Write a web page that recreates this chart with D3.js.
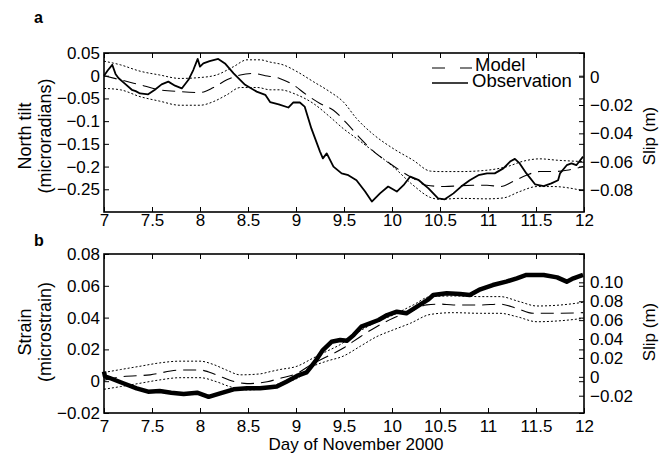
<!DOCTYPE html>
<html>
<head>
<meta charset="utf-8">
<script src="https://cdnjs.cloudflare.com/ajax/libs/d3/7.8.5/d3.min.js"></script>
<style>
body { margin: 0; background: #fff; }
svg text { font-family: "Liberation Sans", Arial, Helvetica, sans-serif; fill: #000; }
</style>
</head>
<body>
<svg id="chart" width="660" height="458"></svg>
<script>
// Panel a: north tilt (microradians), pairs of [day, value]
var tiltObs = [[7.0, 0.0], [7.04, 0.012], [7.086, 0.024], [7.12, 0.004], [7.15, -0.005], [7.22, -0.018],
    [7.29, -0.031], [7.33, -0.034], [7.375, -0.039], [7.46, -0.041], [7.53, -0.031], [7.6, -0.019],
    [7.67, -0.013], [7.74, -0.022], [7.81, -0.028], [7.88, -0.009], [7.93, 0.0125], [7.976, 0.037],
    [8.0, 0.02], [8.035, 0.027], [8.1, 0.032], [8.19, 0.037], [8.26, 0.027], [8.35, 0.005],
    [8.47, -0.02], [8.59, -0.035], [8.68, -0.042], [8.73, -0.058], [8.82, -0.063], [8.92, -0.070],
    [8.97, -0.059], [9.04, -0.059], [9.09, -0.068], [9.16, -0.116], [9.25, -0.167], [9.28, -0.182],
    [9.32, -0.171], [9.39, -0.2], [9.475, -0.215], [9.545, -0.219], [9.63, -0.23], [9.72, -0.255],
    [9.79, -0.277], [9.875, -0.259], [9.96, -0.244], [10.05, -0.255], [10.12, -0.241], [10.19, -0.222],
    [10.28, -0.23], [10.38, -0.248], [10.48, -0.27], [10.55, -0.272], [10.64, -0.259], [10.72, -0.244],
    [10.81, -0.23], [10.9, -0.219], [10.99, -0.215], [11.07, -0.215], [11.16, -0.204], [11.23, -0.189],
    [11.28, -0.183], [11.33, -0.193], [11.4, -0.215], [11.49, -0.239], [11.58, -0.243], [11.66, -0.237],
    [11.73, -0.23], [11.75, -0.215], [11.82, -0.197], [11.87, -0.193], [11.92, -0.197], [11.99, -0.178]];
var tiltModel = [[7.0, 0.0], [7.17, -0.009], [7.375, -0.02], [7.58, -0.031], [7.79, -0.035], [8.0, -0.037],
    [8.14, -0.026], [8.28, -0.009], [8.42, 0.0016], [8.55, 0.005], [8.68, 0.0], [8.83, -0.006],
    [8.97, -0.02], [9.11, -0.042], [9.25, -0.061], [9.39, -0.076], [9.53, -0.105], [9.67, -0.138],
    [9.81, -0.167], [9.95, -0.189], [10.08, -0.208], [10.22, -0.226], [10.36, -0.241], [10.55, -0.244],
    [10.71, -0.242], [10.99, -0.241], [11.125, -0.244], [11.26, -0.233], [11.4, -0.219], [11.54, -0.211],
    [11.68, -0.211], [11.82, -0.208], [11.99, -0.2]];
var tiltUpper = [[7.0, 0.032], [7.17, 0.024], [7.375, 0.01], [7.58, 0.0016], [7.79, -0.006], [8.0, -0.004],
    [8.17, 0.0016], [8.35, 0.02], [8.49, 0.035], [8.625, 0.035], [8.73, 0.03], [8.87, 0.0236],
    [9.01, 0.009], [9.18, -0.013], [9.35, -0.035], [9.49, -0.057], [9.63, -0.094], [9.81, -0.13],
    [10.01, -0.16], [10.22, -0.186], [10.4, -0.21], [10.5, -0.211], [10.71, -0.211], [10.99, -0.208],
    [11.2, -0.2], [11.37, -0.188], [11.54, -0.183], [11.72, -0.186], [11.99, -0.189]];
var tiltLower = [[7.0, -0.028], [7.17, -0.031], [7.375, -0.046], [7.58, -0.056], [7.79, -0.065], [8.0, -0.065],
    [8.14, -0.057], [8.28, -0.042], [8.42, -0.026], [8.6, -0.026], [8.73, -0.031], [8.83, -0.031],
    [9.01, -0.042], [9.18, -0.061], [9.35, -0.09], [9.49, -0.116], [9.63, -0.138], [9.81, -0.167],
    [10.01, -0.2], [10.22, -0.241], [10.4, -0.268], [10.5, -0.272], [10.71, -0.27], [10.99, -0.271],
    [11.16, -0.269], [11.33, -0.255], [11.51, -0.244], [11.68, -0.244], [11.99, -0.253]];

// Panel b: strain (microstrain), pairs of [day, value]
var strainObs = [[7.0, 0.006], [7.01, 0.003], [7.06, 0.002], [7.2, -0.0013], [7.34, -0.0045], [7.46, -0.0066],
    [7.58, -0.0062], [7.7, -0.0072], [7.83, -0.0081], [7.97, -0.0072], [8.09, -0.0098], [8.21, -0.0076],
    [8.35, -0.0051], [8.49, -0.0045], [8.625, -0.0045], [8.73, -0.0038], [8.8, -0.0034], [8.9, -0.0003],
    [9.01, 0.0033], [9.11, 0.0055], [9.2, 0.0124], [9.28, 0.0196], [9.37, 0.0248], [9.46, 0.0259],
    [9.53, 0.0254], [9.6, 0.029], [9.68, 0.0343], [9.77, 0.0364], [9.86, 0.0385], [9.95, 0.0416],
    [10.05, 0.0437], [10.15, 0.0427], [10.26, 0.0469], [10.38, 0.0515], [10.43, 0.0542], [10.57, 0.0553],
    [10.71, 0.0548], [10.81, 0.0542], [10.92, 0.0578], [11.05, 0.0605], [11.19, 0.0626], [11.3, 0.0647],
    [11.4, 0.0668], [11.58, 0.0668], [11.72, 0.0653], [11.82, 0.0626], [11.89, 0.0647], [11.99, 0.0668]];
var strainModel = [[7.0, 0.0006], [7.17, 0.0027], [7.48, 0.004], [7.79, 0.007], [8.0, 0.007], [8.17, 0.004],
    [8.31, 0.0006], [8.49, -0.0015], [8.7, -0.0003], [8.83, 0.0017], [9.01, 0.0049], [9.18, 0.0112],
    [9.32, 0.0154], [9.49, 0.0207], [9.67, 0.028], [9.84, 0.0343], [10.01, 0.0396], [10.19, 0.0437],
    [10.36, 0.048], [10.5, 0.0485], [10.64, 0.0479], [10.92, 0.0479], [11.125, 0.0485], [11.3, 0.0458],
    [11.47, 0.0427], [11.68, 0.0427], [11.99, 0.0431]];
var strainUpper = [[7.0, 0.0055], [7.17, 0.0073], [7.375, 0.0094], [7.58, 0.0115], [7.79, 0.0126], [8.0, 0.0126],
    [8.14, 0.0105], [8.28, 0.0069], [8.42, 0.004], [8.625, 0.0046], [8.73, 0.006], [8.83, 0.0073],
    [9.01, 0.0094], [9.18, 0.0146], [9.32, 0.0188], [9.46, 0.023], [9.63, 0.0302], [9.81, 0.0364],
    [10.01, 0.0416], [10.22, 0.0479], [10.4, 0.0532], [10.64, 0.0536], [10.92, 0.0532], [11.125, 0.0532],
    [11.33, 0.05], [11.51, 0.0473], [11.75, 0.0479], [11.99, 0.0496]];
var strainLower = [[7.0, -0.0051], [7.17, -0.0034], [7.375, -0.0013], [7.58, 0.0008], [7.79, 0.0022], [8.0, 0.0022],
    [8.17, -0.0003], [8.31, -0.0034], [8.49, -0.0055], [8.73, -0.0038], [8.83, -0.0013], [9.01, 0.0017],
    [9.18, 0.0094], [9.32, 0.0126], [9.49, 0.0157], [9.67, 0.022], [9.84, 0.028], [10.01, 0.0322],
    [10.19, 0.0364], [10.4, 0.042], [10.64, 0.0431], [10.92, 0.0427], [11.125, 0.0427], [11.3, 0.0406],
    [11.51, 0.0374], [11.75, 0.038], [11.99, 0.0395]];

// tick values
var dayTicks = [7, 7.5, 8, 8.5, 9, 9.5, 10, 10.5, 11, 11.5, 12];
var tiltTicks = [0.05, 0, -0.05, -0.1, -0.15, -0.2, -0.25];
var slipTicksA = [0, -0.02, -0.04, -0.06, -0.08];
var strainTicks = [0.08, 0.06, 0.04, 0.02, 0, -0.02];
var slipTicksB = [0.10, 0.08, 0.06, 0.04, 0.02, 0, -0.02];

var svg = d3.select('#chart');
var left = 104, right = 584;
var fmt = d3.format('~g');

var x = d3.scaleLinear().domain([7, 12]).range([left, right]);

// Draws one panel with left and right axes
function drawPanel(opt) {
    var g = svg.append('g');
    var y = d3.scaleLinear().domain(opt.yDomain).range([opt.bottom, opt.top]);
    var y2 = d3.scaleLinear().domain(opt.y2Domain).range([opt.bottom, opt.top]);

    var line = d3.line().x(function(d){ return x(d[0]); }).y(function(d){ return y(d[1]); });
    var smooth = d3.line().curve(d3.curveMonotoneX)
        .x(function(d){ return x(d[0]); }).y(function(d){ return y(d[1]); });

    // bounds and model
    [opt.upper, opt.lower].forEach(function(s){
        g.append('path').attr('d', smooth(s))
            .attr('fill', 'none').attr('stroke', '#000')
            .attr('stroke-width', 1).attr('stroke-dasharray', '2,2');
    });
    g.append('path').attr('d', smooth(opt.model))
        .attr('fill', 'none').attr('stroke', '#000')
        .attr('stroke-width', 1.1).attr('stroke-dasharray', '13,7');
    g.append('path').attr('d', line(opt.obs))
        .attr('fill', 'none').attr('stroke', '#000')
        .attr('stroke-width', opt.obsWidth).attr('stroke-linejoin', 'round');

    // bottom axis with labels
    var xb = g.append('g').attr('transform', 'translate(0,' + opt.bottom + ')')
        .call(d3.axisBottom(x).tickValues(dayTicks).tickFormat(fmt).tickSize(-5).tickPadding(opt.xPad));
    // top mirrored ticks
    var xt = g.append('g').attr('transform', 'translate(0,' + opt.top + ')')
        .call(d3.axisTop(x).tickValues(dayTicks).tickFormat('').tickSize(-5));
    // left axis
    var yl = g.append('g').attr('transform', 'translate(' + left + ',0)')
        .call(d3.axisLeft(y).tickValues(opt.yTicks).tickFormat(fmt).tickSize(-5).tickPadding(4));
    // left ticks mirrored on right
    var ym = g.append('g').attr('transform', 'translate(' + right + ',0)')
        .call(d3.axisRight(y).tickValues(opt.yTicks).tickFormat('').tickSize(-5));
    // right slip axis
    var yr = g.append('g').attr('transform', 'translate(' + right + ',0)')
        .call(d3.axisRight(y2).tickValues(opt.y2Ticks).tickFormat(opt.y2Format).tickSize(-5).tickPadding(6));

    [xb, xt, yl, ym, yr].forEach(function(a){
        a.select('.domain').remove();
        a.selectAll('line').attr('stroke', '#000').attr('stroke-width', 1);
        a.selectAll('text').style('font-size', '17px').attr('fill', '#000');
    });

    g.append('rect').attr('x', left).attr('y', opt.top)
        .attr('width', right - left).attr('height', opt.bottom - opt.top)
        .attr('fill', 'none').attr('stroke', '#000').attr('stroke-width', 1.6);

    // axis titles
    var cy = opt.labelY;
    g.append('text').attr('transform', 'translate(31,' + cy + ') rotate(-90)')
        .attr('text-anchor', 'middle').style('font-size', '18px').text(opt.title1);
    g.append('text').attr('transform', 'translate(51,' + cy + ') rotate(-90)')
        .attr('text-anchor', 'middle').style('font-size', '18px').text(opt.title2);
    g.append('text').attr('transform', 'translate(655,' + cy + ') rotate(-90)')
        .attr('text-anchor', 'middle').style('font-size', '17px').text('Slip (m)');

    // panel letter
    g.append('text').attr('x', 34).attr('y', opt.letterY)
        .style('font-size', '16px').style('font-weight', 'bold').text(opt.letter);
    return g;
}

drawPanel({
    top: 53, bottom: 212, yDomain: [-0.3, 0.05], y2Domain: [-0.0955, 0.0167],
    yTicks: tiltTicks, y2Ticks: slipTicksA, y2Format: fmt, xPad: 2,
    obs: tiltObs, model: tiltModel, upper: tiltUpper, lower: tiltLower, obsWidth: 1.8,
    title1: 'North tilt', title2: '(microradians)', labelY: 136, letter: 'a', letterY: 23
});
drawPanel({
    top: 254, bottom: 413, yDomain: [-0.02, 0.08], y2Domain: [-0.0383, 0.130],
    yTicks: strainTicks, y2Ticks: slipTicksB,
    y2Format: function(d){ return d === 0 ? '0' : d3.format('.2f')(d); },
    xPad: 7,
    obs: strainObs, model: strainModel, upper: strainUpper, lower: strainLower, obsWidth: 4.5,
    title1: 'Strain', title2: '(microstrain)', labelY: 332, letter: 'b', letterY: 246
});

// legend
var legend = svg.append('g');
legend.append('line').attr('x1', 432).attr('x2', 472).attr('y1', 68).attr('y2', 68)
    .attr('stroke', '#000').attr('stroke-width', 1.1).attr('stroke-dasharray', '13,15');
legend.append('text').attr('x', 475).attr('y', 71).style('font-size', '18.5px').text('Model');
legend.append('line').attr('x1', 432).attr('x2', 468).attr('y1', 83).attr('y2', 83)
    .attr('stroke', '#000').attr('stroke-width', 1.4);
legend.append('text').attr('x', 472).attr('y', 87).style('font-size', '18.5px').text('Observation');

// x axis title
svg.append('text').attr('x', 356).attr('y', 450).attr('text-anchor', 'middle')
    .style('font-size', '17px').text('Day of November 2000');
</script>
</body>
</html>
